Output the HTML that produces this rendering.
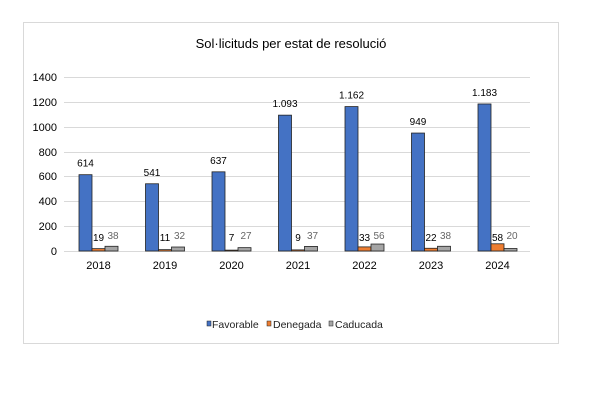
<!DOCTYPE html>
<html><head><meta charset="utf-8"><style>body{margin:0;background:#fff}svg{display:block;font-family:"Liberation Sans",sans-serif}</style></head><body>
<svg width="600" height="400" xmlns="http://www.w3.org/2000/svg">
<rect x="23.5" y="22.5" width="535" height="321" fill="#fff" stroke="#d9d9d9"/>
<text x="291" y="48" font-size="13" text-anchor="middle" fill="#000">Sol·licituds per estat de resolució</text>
<g stroke="#d9d9d9" stroke-width="1">
<line x1="64" x2="530" y1="77.5" y2="77.5"/><line x1="64" x2="530" y1="102.5" y2="102.5"/><line x1="64" x2="530" y1="127.5" y2="127.5"/><line x1="64" x2="530" y1="152.5" y2="152.5"/><line x1="64" x2="530" y1="176.5" y2="176.5"/><line x1="64" x2="530" y1="201.5" y2="201.5"/><line x1="64" x2="530" y1="226.5" y2="226.5"/><line x1="64" x2="530" y1="251.5" y2="251.5"/>
</g>
<g font-size="11" text-anchor="end" fill="#000">
<text x="57" y="81">1400</text><text x="57" y="106">1200</text><text x="57" y="131">1000</text><text x="57" y="156">800</text><text x="57" y="180">600</text><text x="57" y="205">400</text><text x="57" y="230">200</text><text x="57" y="255">0</text>
</g>
<g id="bars" stroke="#222" stroke-width="0.8"></g>
<g id="lbl" font-size="10" text-anchor="middle"></g>
<g font-size="11" text-anchor="middle" fill="#000" id="yrs"></g>
<g font-size="10.5" fill="#222">
<rect x="207" y="321" width="4" height="5" fill="#4472c4" stroke="#222" stroke-width="0.5"/><text x="212" y="328">Favorable</text>
<rect x="267" y="321" width="4" height="5" fill="#ed7d31" stroke="#222" stroke-width="0.5"/><text x="273" y="328">Denegada</text>
<rect x="329" y="321" width="4" height="5" fill="#a5a5a5" stroke="#222" stroke-width="0.5"/><text x="335" y="328">Caducada</text>
</g>
<script>
var d=[["2018",614,19,38,"614"],["2019",541,11,32,"541"],["2020",637,7,27,"637"],["2021",1093,9,37,"1.093"],["2022",1162,33,56,"1.162"],["2023",949,22,38,"949"],["2024",1183,58,20,"1.183"]];
var k=174/1400,b0=251,ns="http://www.w3.org/2000/svg",c=["#4472c4","#ed7d31","#a5a5a5"];
function el(t,a,p,txt){var e=document.createElementNS(ns,t);for(var q in a)e.setAttribute(q,a[q]);if(txt!=null)e.textContent=txt;document.getElementById(p).appendChild(e);}
d.forEach(function(r,i){var x0=79+i*66.5;
for(var j=0;j<3;j++){var h=r[j+1]*k;el("rect",{x:x0+j*13,y:b0-h,width:13,height:h,fill:c[j]},"bars");}
el("text",{x:x0+6.5,y:b0-r[1]*k-8,fill:"#000"},"lbl",r[4]);
el("text",{x:x0+19.5,y:241,fill:"#000"},"lbl",r[2]);
el("text",{x:x0+34,y:239,fill:"#666"},"lbl",r[3]);
el("text",{x:x0+19.5,y:269},"yrs",r[0]);});
</script>
</svg>
</body></html>
